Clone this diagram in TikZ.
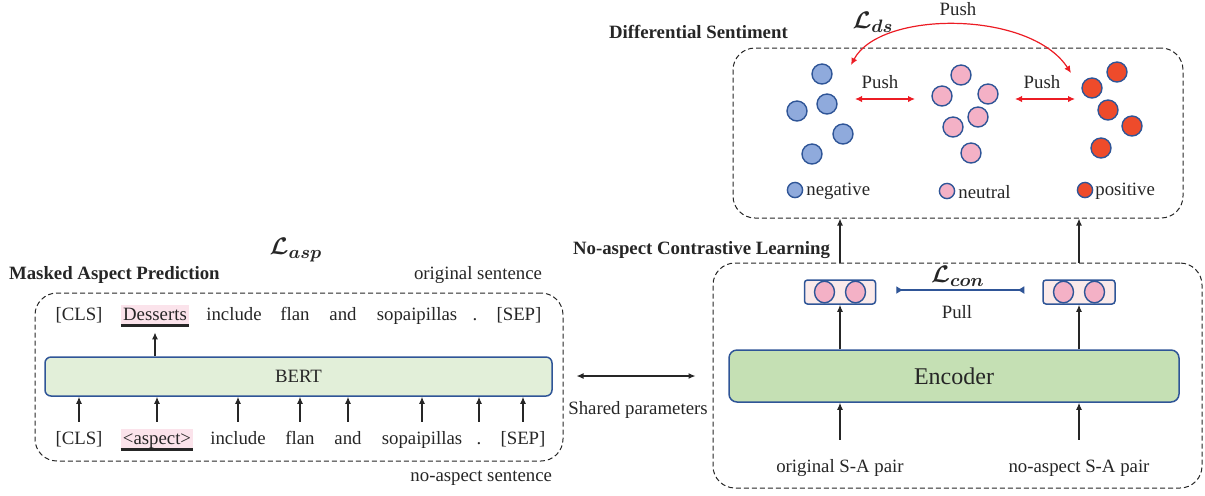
\documentclass[tikz,border=0pt]{standalone}
\usepackage{fontspec}
\setmainfont{Liberation Serif}
\usepackage{amsmath,bm}
\usetikzlibrary{arrows.meta,fit}
\definecolor{TextInk}{HTML}{262626}
\definecolor{EdgeBlue}{HTML}{2F5597}
\definecolor{BertGreen}{HTML}{E2EFD9}
\definecolor{EncGreen}{HTML}{C5E0B4}
\definecolor{NegBlue}{HTML}{8FAADC}
\definecolor{NeuPink}{HTML}{F4B1C6}
\definecolor{PosRed}{HTML}{EE4B2B}
\definecolor{PairPink}{HTML}{FBEAEA}
\definecolor{MarkPink}{HTML}{FBE3EB}
\definecolor{PushRed}{HTML}{EC1C24}

\begin{document}
\begin{tikzpicture}[x=0.5pt,y=-0.5pt,font=\fontsize{9.4}{11}\selectfont,
  every node/.style={text=TextInk},
  dashbox/.style={draw=TextInk,dash pattern=on 2.5pt off 1.5pt,line width=0.5pt,rounded corners=11pt,inner sep=0pt},
  word/.style={inner xsep=1pt,inner ysep=0.5pt,text height=7pt,text depth=2pt},
  arr/.style={draw=TextInk,line width=0.6pt,-{Latex[length=3.5pt,width=3pt]}},
  push/.style={draw=PushRed,line width=0.6pt,{Latex[length=3.5pt,width=3.2pt]}-{Latex[length=3.5pt,width=3.2pt]}},
  negdot/.style={fill=NegBlue,draw=EdgeBlue,line width=0.7pt},
  neudot/.style={fill=NeuPink,draw=EdgeBlue,line width=0.7pt},
  posdot/.style={fill=PosRed,draw=EdgeBlue,line width=0.7pt},
  loss/.style={font=\fontsize{13}{15}\selectfont},
  head/.style={font=\fontsize{9.4}{11}\selectfont\bfseries}]
\useasboundingbox (0,0) rectangle (1205,495);
% masked aspect prediction
\node[loss] (lasp) at (296,250) {$\bm{\mathcal{L}_{asp}}$};
\node[head,anchor=west] (mapt) at (2,275) {Masked Aspect Prediction};
\node[anchor=east] (orig) at (549,275) {original sentence};
\node[anchor=east] (noasp) at (559,478) {no-aspect sentence};
\node[dashbox,fit={(35,293) (563,461)}] (aspbox) {};
\node[draw=EdgeBlue,fill=BertGreen,line width=0.75pt,rounded corners=3pt,inner sep=0pt,fit={(45,357) (552,396)},label=center:BERT] (bert) {};
\foreach \i/\x/\w in {1/79/{[CLS]},3/234/include,4/295/flan,5/343/and,6/417/sopaipillas,7/475/.,8/519/{[SEP]}}
  \node[word] (t\i) at (\x,315) {\w};
\node[word,fill=MarkPink] (t2) at (155,315) {Desserts};
\foreach \i/\x/\w in {1/79/{[CLS]},3/238/include,4/300/flan,5/348/and,6/422/sopaipillas,7/479/.,8/523/{[SEP]}}
  \node[word] (b\i) at (\x,439) {\w};
\node[word,fill=MarkPink] (b2) at (157,439) {<aspect>};
\draw[line width=1.2pt,TextInk] (t2.south west) -- (t2.south east);
\draw[line width=1.2pt,TextInk] (b2.south west) -- (b2.south east);
\foreach \i in {1,...,8}
  \draw[arr,shorten <=3.5pt] (b\i.north) -- (b\i.north |- bert.south);
\draw[arr,shorten >=3.5pt] (t2.south |- bert.north) -- (t2.south);
% shared encoder
\node (shared) at (638,410) {Shared parameters};
% no-aspect contrastive learning
\node[head,anchor=west] (nacl) at (566,250) {No-aspect Contrastive Learning};
\node[dashbox,fit={(713,263) (1202,488)}] (clbox) {};
\node[draw=EdgeBlue,fill=EncGreen,line width=0.75pt,rounded corners=4pt,inner sep=0pt,fit={(729,350) (1179,402)},label={[font=\fontsize{12}{14}\selectfont]center:Encoder}] (enc) {};
\draw[arr,{Latex[length=3.5pt,width=3pt]}-{Latex[length=3.5pt,width=3pt]},shorten <=6.5pt,shorten >=8.5pt] (aspbox.east |- enc) -- (clbox.west |- enc);
\node[draw=EdgeBlue,fill=PairPink,line width=0.75pt,rounded corners=1.5pt,minimum width=35.5pt,minimum height=12pt,inner sep=0pt] (po) at (840,292) {};
\node[draw=EdgeBlue,fill=PairPink,line width=0.75pt,rounded corners=1.5pt,minimum width=36pt,minimum height=12pt,inner sep=0pt] (pn) at (1079,292) {};
\foreach \p in {po,pn} {
  \draw[neudot] ([xshift=-7.75pt]\p.center) circle[x radius=5pt,y radius=5.4pt];
  \draw[neudot] ([xshift=7.75pt]\p.center) circle[x radius=5pt,y radius=5.4pt];
}
\node[word] (osa) at (840,467) {original S-A pair};
\node[word] (nsa) at (1079,467) {no-aspect S-A pair};
\draw[arr,shorten <=8.5pt] (osa.north) -- (osa.north |- enc.south);
\draw[arr,shorten <=8.5pt] (nsa.north) -- (nsa.north |- enc.south);
\draw[arr] (enc.north -| po) -- (po.south);
\draw[arr] (enc.north -| pn) -- (pn.south);
\draw[draw=EdgeBlue,line width=0.6pt,{Latex[reversed,length=3.5pt,width=4pt]}-{Latex[reversed,length=3.5pt,width=4pt]},shorten <=10pt,shorten >=9pt] ([yshift=1pt]po.east) -- ([yshift=1pt]pn.west);
\node[loss] (lcon) at (958,276) {$\bm{\mathcal{L}_{con}}$};
\node (pull) at (957,312) {Pull};
% differential sentiment
\node[head,anchor=west] (dst) at (602,32) {Differential Sentiment};
\node[dashbox,fit={(733,48) (1183,218)}] (dsbox) {};
\draw[arr] (clbox.north -| po) -- (dsbox.south -| po);
\draw[arr] (clbox.north -| pn) -- (dsbox.south -| pn);
\foreach \p in {(822,74),(827,104),(797,111),(843,134),(812,154)}
  \draw[negdot] \p circle[radius=5pt];
\foreach \p in {(961,75),(942,96),(988,94),(978,117),(953,127),(971,153)}
  \draw[neudot] \p circle[radius=5pt];
\foreach \p in {(1117,72),(1092,88),(1108,110),(1132,126),(1101,148)}
  \draw[posdot] \p circle[radius=5pt];
\draw[negdot] (795,190) circle[radius=3.8pt];
\draw[neudot] (947,191) circle[radius=3.8pt];
\draw[posdot] (1085,190) circle[radius=3.8pt];
\node[anchor=west,inner sep=1pt] (lneg) at (804,191) {negative};
\node[anchor=west,inner sep=1pt] (lneu) at (956,192) {neutral};
\node[anchor=west,inner sep=1pt] (lpos) at (1093,191) {positive};
\coordinate (negR) at (855,99);
\coordinate (neuL) at (915,99);
\coordinate (neuR) at (1015,99);
\coordinate (posL) at (1075,99);
\coordinate (negT) at (851,65);
\coordinate (posT) at (1071,73);
\draw[push] (negR) -- (neuL);
\draw[push] (neuR) -- (posL);
\draw[push] (negT) .. controls (880,10) and (1030,10) .. (posT);
\node (push1) at (880,82) {Push};
\node (push2) at (1042,82) {Push};
\node (push3) at (958,9) {Push};
\node[loss] (lds) at (873,22) {$\bm{\mathcal{L}_{ds}}$};
\end{tikzpicture}
\end{document}
